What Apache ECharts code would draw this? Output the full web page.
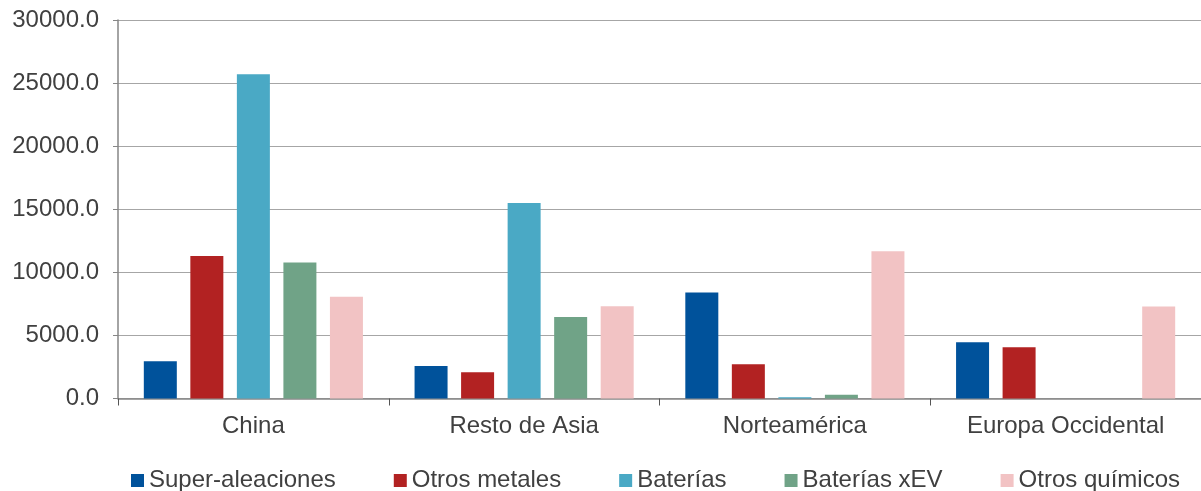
<!DOCTYPE html>
<html>
<head>
<meta charset="utf-8">
<script src="https://cdn.jsdelivr.net/npm/echarts@6/dist/echarts.min.js"></script>
<style>
html,body{margin:0;padding:0;background:#fff;}
#chart{width:1201px;height:491px;}
</style>
</head>
<body>
<div id="chart"></div>
<script>
const categories = ['China', 'Resto de Asia', 'Norteamérica', 'Europa Occidental'];
const seriesNames = ['Super-aleaciones', 'Otros metales', 'Baterías', 'Baterías xEV', 'Otros químicos'];
const superAleaciones = [2960, 2570, 8400, 4460];
const otrosMetales = [11300, 2090, 2720, 4070];
const baterias = [25700, 15500, 100, 0];
const bateriasXEV = [10780, 6450, 290, 0];
const otrosQuimicos = [8060, 7320, 11680, 7300];
const colors = ['#00529B', '#B22222', '#4AA9C5', '#70A387', '#F2C3C4'];

const values = [superAleaciones, otrosMetales, baterias, bateriasXEV, otrosQuimicos];
const FONT = '"Liberation Sans", Arial, sans-serif';
const chart = echarts.init(document.getElementById('chart'), null, {renderer: 'canvas'});
chart.setOption({
  animation: false,
  color: colors,
  grid: {left: 118, right: 0, top: 20, bottom: 92.5, containLabel: false},
  legend: {
    top: 463.5, left: 126,
    itemWidth: 13, itemHeight: 13, itemGap: 58,
    icon: 'rect',
    textStyle: {fontFamily: FONT, fontSize: 24, color: '#404040'},
    data: seriesNames
  },
  xAxis: {
    type: 'category',
    data: categories,
    axisLine: {lineStyle: {color: '#868686', width: 1.5}},
    axisTick: {show: true, length: 7, alignWithLabel: false, lineStyle: {color: '#555'}},
    axisLabel: {fontFamily: FONT, fontSize: 24, color: '#404040', margin: 16}
  },
  yAxis: {
    type: 'value',
    min: 0, max: 30000, interval: 5000,
    axisLine: {show: true, lineStyle: {color: '#868686', width: 1.5}},
    axisTick: {show: true, length: 5, lineStyle: {color: '#868686'}},
    splitLine: {lineStyle: {color: '#A6A6A6', width: 1.2}},
    axisLabel: {fontFamily: FONT, fontSize: 24, color: '#404040', margin: 19,
      formatter: v => v.toFixed(1)}
  },
  series: seriesNames.map((n, i) => ({
    name: n,
    type: 'bar',
    data: values[i],
    barWidth: 33,
    barGap: '41%',
    itemStyle: {color: colors[i]}
  }))
});
</script>
</body>
</html>
